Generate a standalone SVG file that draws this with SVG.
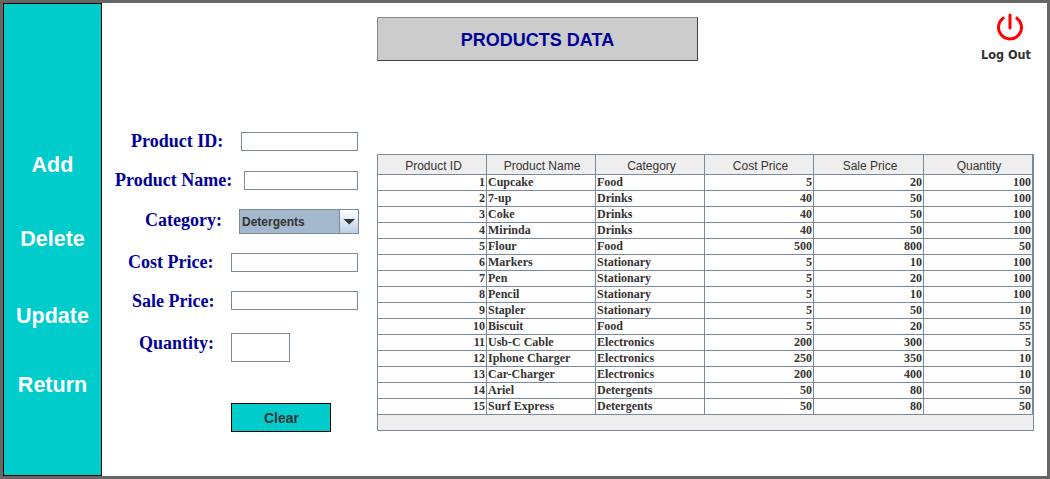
<svg xmlns="http://www.w3.org/2000/svg" width="1050" height="479" viewBox="0 0 1050 479">
<style>
.side{font:bold 21.5px "Liberation Sans",Arial,sans-serif;fill:#fff;text-anchor:middle}
.lab{font:bold 18px "Liberation Serif","Times New Roman",serif;fill:#000099}
.inp{fill:#fff;stroke:#7a8a99;stroke-width:1}
.hd{font:12px "Liberation Sans",Arial,sans-serif;fill:#333;text-anchor:middle}
.c{font:bold 12px "Liberation Serif","Times New Roman",serif;fill:#333}
.n{text-anchor:end}
.g{stroke:#7a8a99;stroke-width:1;fill:none}
</style>
<defs><linearGradient id="btn" x1="0" y1="0" x2="0" y2="1"><stop offset="0" stop-color="#fff"/><stop offset="1" stop-color="#b8cfe5"/></linearGradient></defs>
<rect x="1.5" y="1.5" width="1047" height="476" fill="#fff" stroke="#666" stroke-width="3"/>
<g id="sidebar"><rect x="3.5" y="3.5" width="98" height="472" fill="#00cccc" stroke="#000"/>
<text class="side" x="52.5" y="171.5">Add</text><text class="side" x="52.5" y="246">Delete</text><text class="side" x="52.5" y="322.5">Update</text><text class="side" x="52.5" y="391.5">Return</text></g>
<g id="title"><rect x="377.5" y="17.5" width="320" height="43.5" fill="#ccc"/><path d="M377.5 61V17.5H697.5" fill="none" stroke="#888"/><path d="M377.5 60.5H697.5V17.5" fill="none" stroke="#444"/>
<text x="537.5" y="46" text-anchor="middle" style="font:bold 18px 'Liberation Sans',Arial,sans-serif;fill:#000099">PRODUCTS DATA</text></g>
<g id="logout"><path d="M1004.2 17.5A11.5 11.5 0 1 0 1015.8 17.5" fill="none" stroke="#f00" stroke-width="3"/><path d="M1010 15V28" stroke="#f00" stroke-width="3" stroke-linecap="round"/>
<text x="1006" y="59" text-anchor="middle" style="font:bold 12px 'DejaVu Sans',Verdana,sans-serif;fill:#333" textLength="50" lengthAdjust="spacingAndGlyphs">Log Out</text></g>
<g id="f-id"><text class="lab" x="131" y="147">Product ID:</text><rect class="inp" x="241.5" y="132.5" width="116" height="18"/></g>
<g id="f-name"><text class="lab" x="115" y="186">Product Name:</text><rect class="inp" x="244.5" y="171.5" width="113" height="18"/></g>
<g id="f-cat"><text class="lab" x="145" y="226">Category:</text><rect x="239.5" y="209.5" width="119" height="24" fill="#a3b8cc" stroke="#7a8a99"/><rect x="340" y="210" width="18" height="23" fill="url(#btn)"/><path d="M339.5 210V233" stroke="#7a8a99"/><path d="M343.500 219H355L349.250 224.500Z" fill="#333"/>
<text x="242" y="226" style="font:bold 12px 'Liberation Sans',Arial,sans-serif;fill:#333">Detergents</text></g>
<g id="f-cost"><text class="lab" x="128" y="268">Cost Price:</text><rect class="inp" x="231.5" y="253.5" width="126" height="18"/></g>
<g id="f-sale"><text class="lab" x="132" y="307">Sale Price:</text><rect class="inp" x="231.5" y="291.5" width="126" height="18"/></g>
<g id="f-qty"><text class="lab" x="139" y="349">Quantity:</text><rect class="inp" x="231.5" y="333.5" width="58" height="28"/></g>
<g id="clear"><rect x="231.5" y="403.5" width="99" height="28" fill="#00cccc" stroke="#000"/><text x="281.5" y="423" text-anchor="middle" style="font:bold 14px 'Liberation Sans',Arial,sans-serif;fill:#333">Clear</text></g>
<g id="table">
<rect x="377.5" y="154.5" width="656" height="276" fill="#fff"/>
<rect x="378" y="155" width="655" height="19" fill="#eee"/><rect x="378" y="415" width="655" height="15" fill="#eee"/>
<path class="g" d="M377.5 154.5H1033.5V430.5H377.5ZM377.5 174.5H1033.5M377.5 190.5H1033.5M377.5 206.5H1033.5M377.5 222.5H1033.5M377.5 238.5H1033.5M377.5 254.5H1033.5M377.5 270.5H1033.5M377.5 286.5H1033.5M377.5 302.5H1033.5M377.5 318.5H1033.5M377.5 334.5H1033.5M377.5 350.5H1033.5M377.5 366.5H1033.5M377.5 382.5H1033.5M377.5 398.5H1033.5M377.5 414.5H1033.5M486.5 154.5V414.5M595.5 154.5V414.5M704.5 154.5V414.5M813.5 154.5V414.5M923.5 154.5V414.5M1032.5 154.5V414.5"/>
<text class="hd" x="433.5" y="170">Product ID</text><text class="hd" x="542" y="170">Product Name</text><text class="hd" x="651.5" y="170">Category</text><text class="hd" x="760.5" y="170">Cost Price</text><text class="hd" x="870" y="170">Sale Price</text><text class="hd" x="979" y="170">Quantity</text>
<g class="c">
<text class="c n" x="485" y="186">1</text><text class="c" x="488" y="186">Cupcake</text><text class="c" x="597" y="186">Food</text><text class="c n" x="812" y="186">5</text><text class="c n" x="922" y="186">20</text><text class="c n" x="1031" y="186">100</text>
<text class="c n" x="485" y="202">2</text><text class="c" x="488" y="202">7-up</text><text class="c" x="597" y="202">Drinks</text><text class="c n" x="812" y="202">40</text><text class="c n" x="922" y="202">50</text><text class="c n" x="1031" y="202">100</text>
<text class="c n" x="485" y="218">3</text><text class="c" x="488" y="218">Coke</text><text class="c" x="597" y="218">Drinks</text><text class="c n" x="812" y="218">40</text><text class="c n" x="922" y="218">50</text><text class="c n" x="1031" y="218">100</text>
<text class="c n" x="485" y="234">4</text><text class="c" x="488" y="234">Mirinda</text><text class="c" x="597" y="234">Drinks</text><text class="c n" x="812" y="234">40</text><text class="c n" x="922" y="234">50</text><text class="c n" x="1031" y="234">100</text>
<text class="c n" x="485" y="250">5</text><text class="c" x="488" y="250">Flour</text><text class="c" x="597" y="250">Food</text><text class="c n" x="812" y="250">500</text><text class="c n" x="922" y="250">800</text><text class="c n" x="1031" y="250">50</text>
<text class="c n" x="485" y="266">6</text><text class="c" x="488" y="266">Markers</text><text class="c" x="597" y="266">Stationary</text><text class="c n" x="812" y="266">5</text><text class="c n" x="922" y="266">10</text><text class="c n" x="1031" y="266">100</text>
<text class="c n" x="485" y="282">7</text><text class="c" x="488" y="282">Pen</text><text class="c" x="597" y="282">Stationary</text><text class="c n" x="812" y="282">5</text><text class="c n" x="922" y="282">20</text><text class="c n" x="1031" y="282">100</text>
<text class="c n" x="485" y="298">8</text><text class="c" x="488" y="298">Pencil</text><text class="c" x="597" y="298">Stationary</text><text class="c n" x="812" y="298">5</text><text class="c n" x="922" y="298">10</text><text class="c n" x="1031" y="298">100</text>
<text class="c n" x="485" y="314">9</text><text class="c" x="488" y="314">Stapler</text><text class="c" x="597" y="314">Stationary</text><text class="c n" x="812" y="314">5</text><text class="c n" x="922" y="314">50</text><text class="c n" x="1031" y="314">10</text>
<text class="c n" x="485" y="330">10</text><text class="c" x="488" y="330">Biscuit</text><text class="c" x="597" y="330">Food</text><text class="c n" x="812" y="330">5</text><text class="c n" x="922" y="330">20</text><text class="c n" x="1031" y="330">55</text>
<text class="c n" x="485" y="346">11</text><text class="c" x="488" y="346">Usb-C Cable</text><text class="c" x="597" y="346">Electronics</text><text class="c n" x="812" y="346">200</text><text class="c n" x="922" y="346">300</text><text class="c n" x="1031" y="346">5</text>
<text class="c n" x="485" y="362">12</text><text class="c" x="488" y="362">Iphone Charger</text><text class="c" x="597" y="362">Electronics</text><text class="c n" x="812" y="362">250</text><text class="c n" x="922" y="362">350</text><text class="c n" x="1031" y="362">10</text>
<text class="c n" x="485" y="378">13</text><text class="c" x="488" y="378">Car-Charger</text><text class="c" x="597" y="378">Electronics</text><text class="c n" x="812" y="378">200</text><text class="c n" x="922" y="378">400</text><text class="c n" x="1031" y="378">10</text>
<text class="c n" x="485" y="394">14</text><text class="c" x="488" y="394">Ariel</text><text class="c" x="597" y="394">Detergents</text><text class="c n" x="812" y="394">50</text><text class="c n" x="922" y="394">80</text><text class="c n" x="1031" y="394">50</text>
<text class="c n" x="485" y="410">15</text><text class="c" x="488" y="410">Surf Express</text><text class="c" x="597" y="410">Detergents</text><text class="c n" x="812" y="410">50</text><text class="c n" x="922" y="410">80</text><text class="c n" x="1031" y="410">50</text>
</g></g>
</svg>
